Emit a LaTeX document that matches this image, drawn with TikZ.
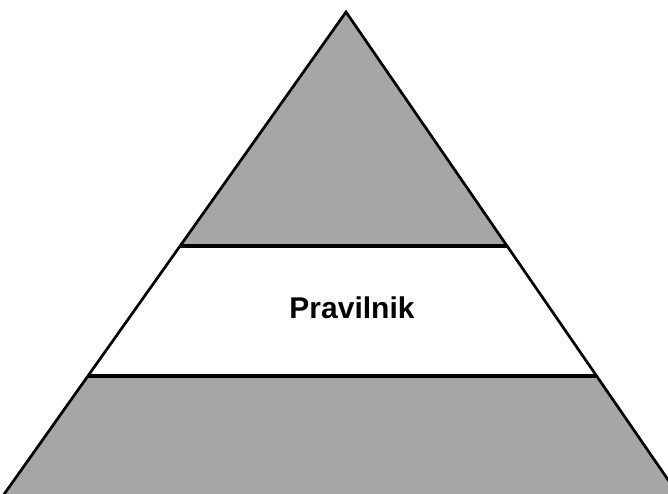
\documentclass[tikz,border=0pt]{standalone}
\usepackage{fontspec}
\setmainfont{Liberation Sans}
\usetikzlibrary{calc}
\definecolor{layergray}{RGB}{166,166,166}

\begin{document}
\begin{tikzpicture}[x=1pt,y=-1pt]
		\tikzset{layer/.style = {fill=layergray}}
		\tikzset{edge/.style = {line width=2.7pt, line cap=round, line join=miter}}
		\tikzset{band/.style = {line width=4pt}}
		\tikzset{label/.style = {font=\bfseries\fontsize{30}{35}\selectfont}}
		
		\useasboundingbox (0,0) rectangle (668,494);
		\clip (0,0) rectangle (668,494);
		
		\coordinate (apex) at (346,12);
		\coordinate (bl)   at (0,500);
		\coordinate (br)   at (682,500);
		
		% band corners on the two sides
		\coordinate (ul) at ($(apex)!0.48!(bl)$);
		\coordinate (ur) at ($(apex)!0.48!(br)$);
		\coordinate (ll) at ($(apex)!0.746!(bl)$);
		\coordinate (lr) at ($(apex)!0.746!(br)$);
		
		\fill[layer] (apex) -- (ur) -- (ul) -- cycle;
		\fill[white] (ul) -- (ur) -- (lr) -- (ll) -- cycle;
		\fill[layer] (ll) -- (lr) -- (br) -- (bl) -- cycle;
		
		\draw[band] (ul) -- (ur);
		\draw[band] (ll) -- (lr);
		\draw[edge] (bl) -- (apex) -- (br);
		
		\node[label] (rules) at (352,308) {Pravilnik};
		\end{tikzpicture}
\end{document}
